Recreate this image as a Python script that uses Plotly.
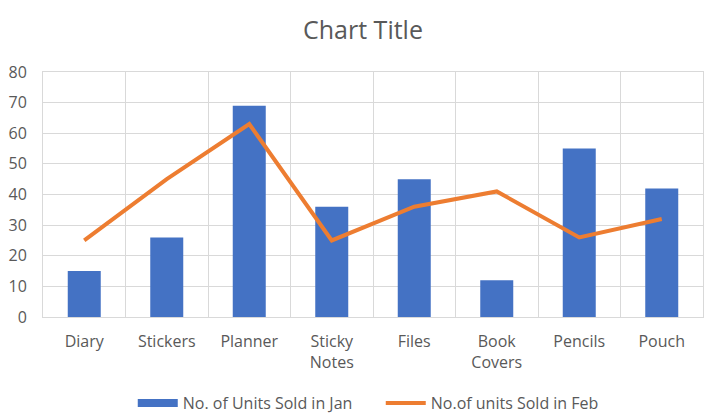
import plotly.graph_objects as go

# data
categories = ["Diary", "Stickers", "Planner", "Sticky<br>Notes", "Files",
              "Book<br>Covers", "Pencils", "Pouch"]
units_jan = [15, 26, 69, 36, 45, 12, 55, 42]
units_feb = [25, 45, 63, 25, 36, 41, 26, 32]
y_ticks = [0, 10, 20, 30, 40, 50, 60, 70, 80]

font_family = "Open Sans, Liberation Sans, sans-serif"
grey = "#595959"
grid = "#d9d9d9"
blue = "#4472C4"
orange = "#ED7D31"

fig = go.Figure()
fig.add_trace(go.Bar(
    x=categories, y=units_jan, name="No. of Units Sold in Jan",
    marker=dict(color=blue, line=dict(width=0)), showlegend=False,
))
# legend entry drawn as a wide flat block, like Excel's
fig.add_trace(go.Scatter(
    x=[None], y=[None], name="No. of Units Sold in Jan",
    mode="lines", line=dict(color=blue, width=8),
))
fig.add_trace(go.Scatter(
    x=categories, y=units_feb, name="No.of units Sold in Feb",
    mode="lines", line=dict(color=orange, width=4),
))

# page body adds 8px margin, so the figure is a bit smaller than the window
fig.update_layout(
    width=710, height=410,
    margin=dict(l=35, r=15, t=64, b=101, autoexpand=False),
    paper_bgcolor="white", plot_bgcolor="white",
    font=dict(family=font_family, color=grey, size=16),
    title=dict(text="Chart Title", x=0.5, xanchor="center", y=0.946, yanchor="middle",
               font=dict(size=25, color=grey)),
    bargap=0.6,
    showlegend=True,
    legend=dict(orientation="h", x=0.136, xanchor="left", y=-0.351, yanchor="middle",
                font=dict(size=16, color=grey), itemwidth=40, traceorder="normal",
                entrywidth=193, entrywidthmode="pixels"),
)
fig.update_xaxes(
    type="category", tickson="boundaries", showgrid=True, gridcolor=grid, gridwidth=1,
    showline=True, linecolor=grid, mirror=True, ticks="", automargin=False,
    tickfont=dict(size=16, color=grey), ticklabelstandoff=10,
)
fig.update_yaxes(
    range=[0, 80], tickvals=y_ticks, showgrid=True, gridcolor=grid, gridwidth=1,
    showline=True, linecolor=grid, mirror=True, zeroline=False, ticks="", automargin=False,
    tickfont=dict(size=16, color=grey), ticklabelstandoff=12,
)

fig.write_html("out.html")
